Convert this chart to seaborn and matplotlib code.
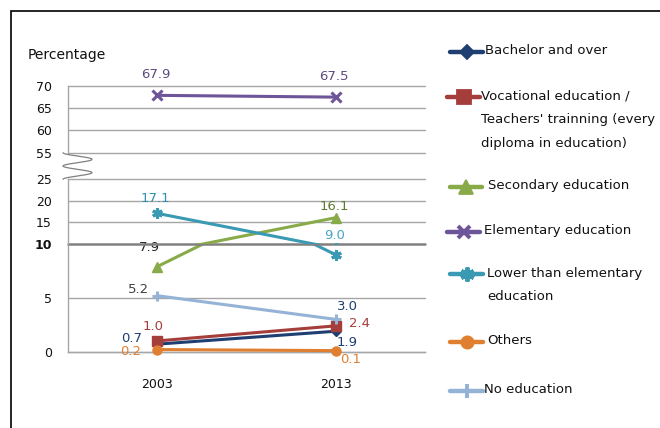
import numpy as np
import pandas as pd
import matplotlib
matplotlib.use("Agg")
import matplotlib.pyplot as plt
from matplotlib.lines import Line2D
from matplotlib.patches import Rectangle
import seaborn as sns

# ---------------- data ----------------
years = ["2003", "2013"]
series_names = [
    "Bachelor and over",
    "Vocational education /\nTeachers' trainning (every\ndiploma in education)",
    "Secondary education",
    "Elementary education",
    "Lower than elementary\neducation",
    "Others",
    "No education",
]
bachelor = [0.7, 1.9]
vocational = [1.0, 2.4]
secondary = [7.9, 16.1]
elementary = [67.9, 67.5]
lower_elem = [17.1, 9.0]
others = [0.2, 0.1]
no_education = [5.2, 3.0]
all_values = [bachelor, vocational, secondary, elementary, lower_elem, others, no_education]

# ---------------- styles ----------------
colors = ["#1F3F73", "#A53E3B", "#88AA48", "#6E5499", "#3A99B3", "#E07F30", "#95B3D7"]
markers = ["D", "s", "^", "x", (6, 2, 0), "o", "+"]
msizes = [5.5, 7.0, 7.5, 6.5, 7.5, 6.5, 7.5]
mews = [1.0, 1.0, 1.0, 2.2, 2.2, 1.0, 2.2]
label_colors = [
    ["#1F3F73", "#1F3F73"],
    ["#A53E3B", "#A53E3B"],
    ["#222222", "#5E7A2E"],
    ["#5F4B80", "#5F4B80"],
    ["#2E8FAE", "#4BA3C0"],
    ["#E07F30", "#E07F30"],
    ["#404040", "#1F3F73"],
]
label_offsets = [  # points
    [(-18.2, 4.2), (8.4, -8.3)],
    [(-3.1, 10.2), (17.3, 2.0)],
    [(-6.0, 13.5), (-0.7, 8.3)],
    [(-1.0, 15.0), (-1.0, 14.7)],
    [(-1.6, 11.0), (-0.7, 13.7)],
    [(-19.0, -1.6), (10.8, -6.3)],
    [(-13.2, 4.8), (8.4, 9.1)],
]
legend_rows = [51.7, 96.7, 186.7, 231.7, 274.0, 341.7, 390.7]  # pixel y of first line
legend_text_x = [485, 481, 488, 484, 487, 487, 484]
legend_handle_x = [(450, 483), (447, 480), (450, 482), (447, 480), (450, 483), (450, 483), (450, 483)]

sns.set_style("white")
plt.rcParams["font.family"] = ["DejaVu Sans"]

W_PX, H_PX = 660, 428
fig = plt.figure(figsize=(W_PX / 100, H_PX / 100), dpi=100)


def fy(px):
    return 1 - px / H_PX


grid_c = "#A6A6A6"
AX_L, AX_R = 68, 425
bands = [
    ((0, 10), (351.7, 244.0), [0, 5]),
    ((10, 25), (244.0, 179.3), [10, 15, 20, 25]),
    ((55, 70), (152.7, 86.0), [55, 60, 65, 70]),
]
xpos = list(range(len(years)))

axes = []
for bi, ((lo, hi), (pb, pt), ticks) in enumerate(bands):
    ax = fig.add_axes([AX_L / W_PX, fy(pb), (AX_R - AX_L) / W_PX, (pb - pt) / H_PX])
    ax.set_facecolor("none")
    for si, vals in enumerate(all_values):
        inside = [lo <= v <= hi for v in vals]
        if not any(inside):
            continue
        sns.lineplot(x=xpos, y=vals, ax=ax, color=colors[si], marker=markers[si],
                     markersize=msizes[si], markeredgecolor=colors[si],
                     markerfacecolor=colors[si], markeredgewidth=mews[si],
                     linewidth=2.2, clip_on=not all(inside), sort=False,
                     estimator=None, legend=False, zorder=3 + si * 0.01)
        for pi, v in enumerate(vals):
            if lo <= v <= hi:
                ax.annotate(f"{v:.1f}", xy=(xpos[pi], v), xytext=label_offsets[si][pi],
                            textcoords="offset points", ha="center", va="center",
                            fontsize=9.5, color=label_colors[si][pi],
                            annotation_clip=False, zorder=5)
    ax.set_xlim(-0.5, len(years) - 0.5)
    ax.set_ylim(lo, hi)
    ax.set_yticks(ticks)
    ax.set_yticklabels([str(t) for t in ticks])
    ax.tick_params(axis="y", length=3.6, width=1, color=grid_c, direction="out",
                   labelsize=9, pad=8, labelcolor="#111111")
    ax.grid(axis="y", color=grid_c, lw=1.0)
    ax.grid(axis="x", visible=False)
    for gl in ax.yaxis.get_gridlines():
        gl.set_clip_on(False)
    for sp in ["top", "right"]:
        ax.spines[sp].set_visible(False)
    ax.spines["left"].set_color(grid_c)
    ax.spines["left"].set_linewidth(1.0)
    if bi == 0:
        ax.spines["bottom"].set_color(grid_c)
        ax.spines["bottom"].set_linewidth(1.0)
        ax.set_xticks(xpos)
        ax.set_xticklabels(years)
        ax.set_xticks([-0.5, 0.5, 1.5], minor=True)
        ax.tick_params(axis="x", which="major", length=0, pad=19, labelsize=9,
                       labelcolor="#111111")
        ax.tick_params(axis="x", which="minor", length=3.6, width=1, color=grid_c,
                       direction="out")
    else:
        ax.spines["bottom"].set_visible(False)
        ax.set_xticks([])
    if bi == 1:
        gl10 = ax.yaxis.get_gridlines()[0]
        gl10.set_color("#808080")
        gl10.set_linewidth(1.8)
        ax.get_yticklabels()[0].set_fontweight("bold")
    ax.set_xlabel("")
    ax.set_ylabel("")
    axes.append(ax)

# axis break squiggle
t = np.linspace(0, 1, 200)
sx = 63 + 29 * (1 - np.cos(4 * np.pi * t)) / 2
sy = 152.7 + 26.6 * t
fig.add_artist(Line2D(sx / W_PX, fy(sy), transform=fig.transFigure, color="#808080", lw=0.9))

# y label
fig.text(28 / W_PX, fy(55), "Percentage", ha="left", va="center", fontsize=10, color="#111111")

# legend (drawn manually to align handles with first label line)
for si, name in enumerate(series_names):
    y = legend_rows[si]
    x0, x1 = legend_handle_x[si]
    hx = np.array([x0, (x0 + x1) / 2, x1]) / W_PX
    fig.add_artist(Line2D(hx, [fy(y)] * 3, transform=fig.transFigure, color=colors[si],
                          lw=3.2, marker=markers[si], markevery=[1],
                          markersize=msizes[si] * 1.35, markeredgecolor=colors[si],
                          markerfacecolor=colors[si], markeredgewidth=mews[si] * 1.3))
    fig.text(legend_text_x[si] / W_PX, fy(y - 7.5), name, ha="left", va="top", fontsize=9.5,
             linespacing=2.1, color="#111111")

# outer frame
fig.add_artist(Rectangle((11 / W_PX, -0.2), 2, fy(11) + 0.2, transform=fig.transFigure,
                         fill=False, ec="black", lw=1.2))

fig.savefig("out.png", dpi=100)
